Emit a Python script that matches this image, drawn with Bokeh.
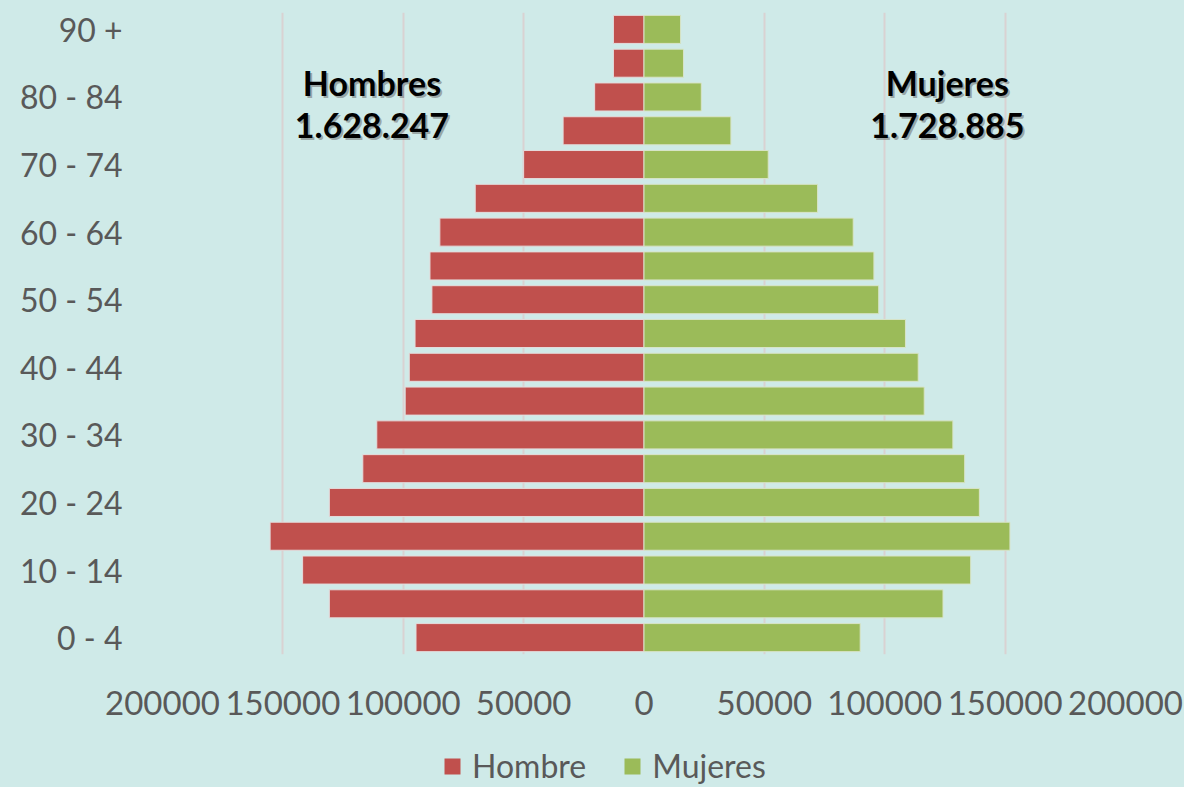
from bokeh.plotting import figure
from bokeh.layouts import column
from bokeh.models import (ColumnDataSource, FixedTicker, Range1d, Label, Legend, LegendItem)
from bokeh.embed import file_html
from bokeh.resources import INLINE

age_groups = ["0 - 4", "5 - 9", "10 - 14", "15 - 19", "20 - 24", "25 - 29", "30 - 34",
              "35 - 39", "40 - 44", "45 - 49", "50 - 54", "55 - 59", "60 - 64", "65 - 69",
              "70 - 74", "75 - 79", "80 - 84", "85 - 89", "90 +"]
hombres = [94700, 130700, 141800, 155300, 130700, 116800, 111000, 99200, 97500, 95100,
           88100, 88900, 84800, 70100, 50000, 33600, 20500, 12700, 12700]
mujeres = [89800, 124200, 135700, 152000, 139300, 133200, 128300, 116400, 113900, 108600,
           97500, 95500, 86900, 72100, 51600, 36100, 23800, 16400, 15200]
x_ticks = [-200000, -150000, -100000, -50000, 0, 50000, 100000, 150000, 200000]
series_names = ["Hombre", "Mujeres"]
total_hombres = "1.628.247"
total_mujeres = "1.728.885"

BG = "#cfeae8"
RED = "#c0504d"
GREEN = "#9bbb59"
FONT = "Lato"

idx = list(range(len(age_groups)))
src = ColumnDataSource(dict(y=idx, h=[-v for v in hombres], m=mujeres))

p = figure(width=1184, height=727, output_backend="svg", toolbar_location=None,
           x_range=Range1d(-200000, 200000), y_range=Range1d(-0.5, len(age_groups) - 0.5),
           min_border_left=162, min_border_right=59, min_border_top=12, min_border_bottom=73,
           background_fill_alpha=0, border_fill_alpha=0, outline_line_color=None,
           styles={"background-color": BG})

p.hbar(y="y", left="h", right=0, height=0.83, source=src, fill_color=RED,
       line_color="#e4dcdc", line_width=1)
p.hbar(y="y", left=0, right="m", height=0.83, source=src, fill_color=GREEN,
       line_color="#d8e4c8", line_width=1)

# axes
p.xaxis.ticker = FixedTicker(ticks=x_ticks)
p.xaxis.major_label_overrides = {t: str(abs(t)) for t in x_ticks}
p.yaxis.ticker = FixedTicker(ticks=idx[::2])
p.yaxis.major_label_overrides = {i: age_groups[i] for i in idx[::2]}
for ax in (p.xaxis, p.yaxis):
    ax.axis_line_color = None
    ax.major_tick_line_color = None
    ax.minor_tick_line_color = None
    ax.major_label_text_font = FONT
    ax.major_label_text_color = "#595959"
p.xaxis.major_label_text_font_size = "33px"
p.yaxis.major_label_text_font_size = "32px"
p.xaxis.major_label_standoff = 30
p.yaxis.major_label_standoff = 34

p.xgrid.ticker = FixedTicker(ticks=[t for t in x_ticks if t != 0])
p.xgrid.grid_line_color = "#d9d2d2"
p.xgrid.grid_line_width = 2
p.ygrid.grid_line_color = None
p.xgrid.level = "underlay"

# annotations with soft shadow
def add_label(x, y, text):
    p.add_layout(Label(x=x, y=y, text=text, text_font=FONT, text_font_style="bold",
                       text_font_size="34px", text_color="#6d6d6d", text_alpha=0.55,
                       text_align="center", text_baseline="middle", x_offset=2, y_offset=-2))
    p.add_layout(Label(x=x, y=y, text=text, text_font=FONT, text_font_style="bold",
                       text_font_size="34px", text_color="#000000",
                       text_align="center", text_baseline="middle"))

add_label(-113000, 16.43, "Hombres")
add_label(-113000, 15.15, total_hombres)
add_label(126000, 16.43, "Mujeres")
add_label(126000, 15.15, total_mujeres)

# legend strip
lg = figure(width=1184, height=60, output_backend="svg", toolbar_location=None,
            x_range=Range1d(0, 1), y_range=Range1d(0, 1),
            min_border=0, background_fill_alpha=0, border_fill_alpha=0,
            outline_line_color=None, styles={"background-color": BG})
lg.axis.visible = False
lg.grid.visible = False
r1 = lg.hbar(y=[0], left=[0], right=[0], height=0, fill_color=RED, line_color=None)
r2 = lg.hbar(y=[0], left=[0], right=[0], height=0, fill_color=GREEN, line_color=None)
legend = Legend(items=[LegendItem(label=series_names[0], renderers=[r1]),
                       LegendItem(label=series_names[1], renderers=[r2])],
                orientation="horizontal", location=(280, 2),
                background_fill_alpha=0, border_line_color=None,
                label_text_font=FONT, label_text_font_size="32px", label_text_color="#595959",
                label_height=20, glyph_width=20, glyph_height=20, label_standoff=10, spacing=36,
                padding=0, margin=0)
lg.add_layout(legend, "center")

layout = column(p, lg, spacing=0, styles={"background-color": BG})
open("out.html", "w").write(file_html(layout, INLINE))
